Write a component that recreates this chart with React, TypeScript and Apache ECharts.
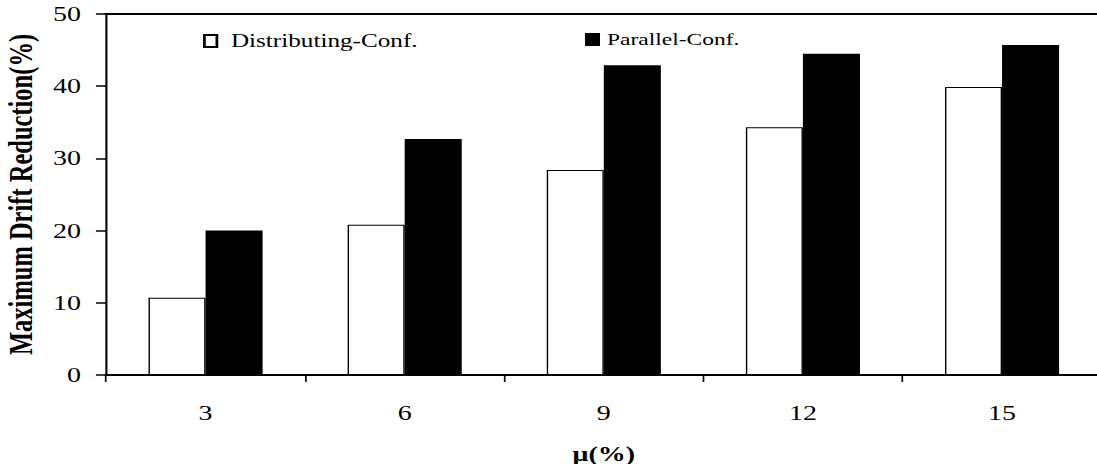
import React, { useEffect, useRef } from "react";
import * as echarts from "echarts";

const categories = ["3", "6", "9", "12", "15"];
const distributing = [10.7, 20.8, 28.4, 34.3, 39.9];
const parallel = [20.0, 32.7, 42.9, 44.5, 45.7];
const yTicks = { min: 0, max: 50, interval: 10 };

const S = 1.4; // horizontal stretch of the reference figure
const W = 1097 / S;
const H = 464;
const FONT = "'Liberation Serif', 'Times New Roman', serif";

export default function App() {
  const ref = useRef<HTMLDivElement>(null);
  useEffect(() => {
    if (!ref.current) return;
    const chart = echarts.init(ref.current, null, { renderer: "svg" });
    const px = (v: number) => v / S;
    chart.setOption({
      animation: false,
      backgroundColor: "#ffffff",
      textStyle: { fontFamily: FONT, color: "#000" },
      grid: {
        left: px(106),
        right: W - px(1101),
        top: 14,
        bottom: H - 375,
        containLabel: false,
        outerBoundsMode: "none",
      },
      legend: [
        {
          data: ["Distributing-Conf."],
          left: px(203),
          top: 32,
          padding: 0,
          icon: "rect",
          itemWidth: px(12.5),
          itemHeight: 12,
          textStyle: { fontFamily: FONT, fontSize: 18, color: "#000", padding: [0, 0, 0, 5] },
        },
        {
          data: ["Parallel-Conf."],
          left: px(585),
          top: 31,
          padding: 0,
          icon: "rect",
          itemWidth: px(15),
          itemHeight: 13,
          textStyle: { fontFamily: FONT, fontSize: 16.8, color: "#000" },
        },
      ],
      xAxis: [
        {
          type: "category",
          data: categories,
          position: "bottom",
          name: "μ(%)",
          nameLocation: "middle",
          nameGap: 69,
          nameTextStyle: { fontFamily: FONT, fontSize: 20, fontWeight: "bold", color: "#000" },
          axisLine: { lineStyle: { color: "#000", width: 2 } },
          axisTick: { show: true, length: 7, lineStyle: { color: "#000", width: 1.2 } },
          axisLabel: { fontFamily: FONT, fontSize: 20, color: "#000", margin: 28 },
          splitLine: { show: false },
        },
        {
          type: "category",
          data: categories,
          position: "top",
          axisLine: { show: true, onZero: false, lineStyle: { color: "#000", width: 2 } },
          axisTick: { show: false },
          axisLabel: { show: false },
          splitLine: { show: false },
        },
      ],
      yAxis: {
        type: "value",
        min: yTicks.min,
        max: yTicks.max,
        interval: yTicks.interval,
        name: "Maximum Drift Reduction(%)",
        nameLocation: "middle",
        nameGap: 48,
        nameTextStyle: { fontFamily: FONT, fontSize: 24.5, fontWeight: "bold", color: "#000" },
        axisLine: { show: true, lineStyle: { color: "#000", width: 1.5 } },
        axisTick: { show: true, length: px(10), lineStyle: { color: "#000", width: 1.5 } },
        axisLabel: { fontFamily: FONT, fontSize: 20, color: "#000", margin: px(25) },
        splitLine: { show: false },
      },
      series: [
        {
          name: "Distributing-Conf.",
          type: "bar",
          data: distributing,
          barGap: "0%",
          barCategoryGap: "42.7%",
          itemStyle: { color: "#ffffff", borderColor: "#000", borderWidth: 1 },
        },
        {
          name: "Parallel-Conf.",
          type: "bar",
          data: parallel,
          barGap: "0%",
          barCategoryGap: "42.7%",
          itemStyle: { color: "#000000" },
        },
      ],
    });
    return () => chart.dispose();
  }, []);
  return (
    <div
      ref={ref}
      style={{
        position: "absolute",
        left: 0,
        top: 0,
        width: W,
        height: H,
        transform: `scaleX(${S})`,
        transformOrigin: "0 0",
      }}
    />
  );
}
